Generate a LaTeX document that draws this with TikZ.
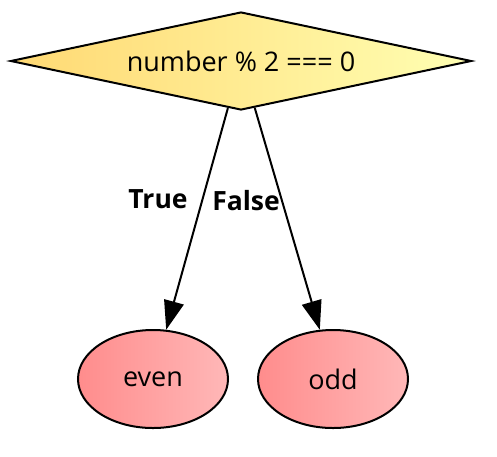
\documentclass[tikz,border=0pt]{standalone}
\usepackage{fontspec}
\setmainfont{Open Sans}
\usetikzlibrary{shapes.geometric,arrows.meta}
\begin{document}
\begin{tikzpicture}[x=1pt,y=-1pt,
  decision/.style={diamond, draw=black, line width=2pt, inner sep=0pt,
    minimum width=461pt, minimum height=98pt, shape aspect=4.7,
    left color=yellow!45!orange!55!white, right color=yellow!30!white,
    font=\fontsize{27}{32}\selectfont},
  outcome/.style={ellipse, draw=black, line width=2pt, inner sep=0pt,
    minimum width=150pt, minimum height=98pt,
    left color=red!45!white, right color=red!28!white,
    font=\fontsize{27}{32}\selectfont},
  flow/.style={draw=black, line width=2pt, -{Triangle[length=29pt,width=20pt]}},
  edgelabel/.style={font=\fontsize{26.5}{30}\selectfont\bfseries}]
\useasboundingbox (0,0) rectangle (497,456);
\node[decision] (d) at (241,61) {number \% 2 === 0};
\node[outcome] (even) at (153,379) {even};
\node[outcome] (odd) at (333,379) {odd};
\draw[flow] (d) -- (even.75);
\draw[flow] (d) -- (odd.105);
\node[edgelabel] (lt) at (158,199) {True};
\node[edgelabel] (lf) at (246,201) {False};
\end{tikzpicture}
\end{document}
